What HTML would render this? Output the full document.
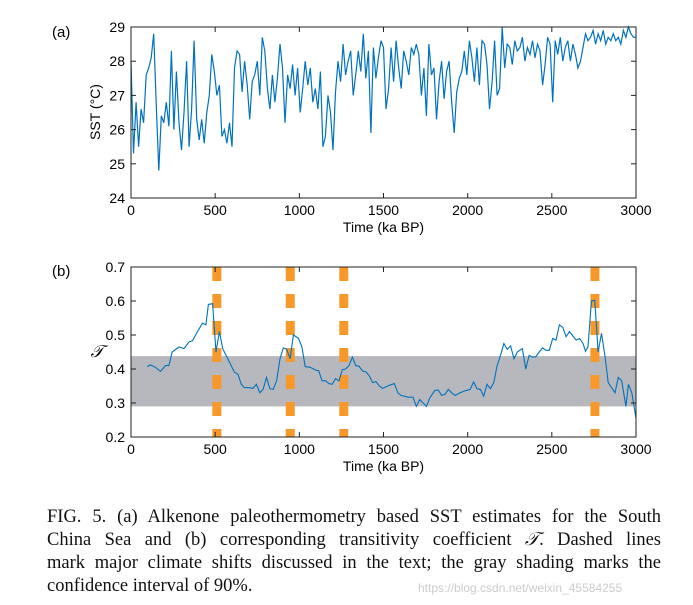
<!DOCTYPE html>
<html><head><meta charset="utf-8"><style>
body{margin:0;background:#fff;width:693px;height:605px;overflow:hidden}
svg{position:absolute;left:0;top:0}
.cap{position:absolute;left:47px;top:506px;width:614px;font-family:"Liberation Serif",serif;font-size:18.5px;line-height:23px;color:#111}
.cap div{white-space:nowrap;text-align:justify;text-align-last:justify}
.cap div.last{text-align-last:left}
.wm{position:absolute;left:418px;top:581px;font-family:"Liberation Sans",sans-serif;font-size:12px;color:#ccc}
</style></head><body>
<svg id="chart" width="693" height="500"></svg>
<div class="cap">
<div>FIG. 5. (a) Alkenone paleothermometry based SST estimates for the South</div>
<div>China Sea and (b) corresponding transitivity coefficient <i>𝒯</i>. Dashed lines</div>
<div>mark major climate shifts discussed in the text; the gray shading marks the</div>
<div class="last">confidence interval of 90%.</div>
</div>
<div class="wm">https://blog.csdn.net/weixin_45584255</div>
<script>
const sstValues=[28.0,25.3,26.8,25.5,26.6,26.2,27.6,27.8,28.1,28.8,26.7,24.8,26.4,26.2,26.8,26.1,28.3,26.0,27.7,26.2,25.4,26.5,28.0,25.5,26.6,28.6,26.3,25.7,26.3,25.6,26.5,27.0,28.2,27.7,27.0,27.3,25.8,26.0,25.6,26.2,25.5,27.8,28.3,28.2,27.1,28.0,27.3,26.3,27.4,27.6,28.0,27.0,28.7,28.3,27.2,26.6,27.6,26.8,27.5,28.5,27.8,26.2,27.6,27.2,27.9,27.0,27.8,26.5,27.2,28.0,27.3,27.8,26.8,27.2,26.6,27.7,25.5,25.8,27.0,26.5,25.4,27.1,28.0,27.4,28.5,27.6,28.0,28.3,27.0,27.6,28.3,27.7,28.8,27.5,28.3,25.9,28.4,27.5,28.1,28.6,28.4,26.6,27.2,28.4,27.4,28.6,27.8,27.2,28.3,28.0,27.6,28.4,28.2,28.5,28.2,27.0,27.8,26.4,28.5,27.6,27.8,26.3,27.4,28.0,26.9,27.7,28.0,26.8,25.9,27.1,27.5,27.7,28.3,27.6,28.6,28.1,27.4,28.4,27.3,28.6,28.5,27.9,26.6,27.4,28.6,27.0,27.2,29.0,27.8,28.5,28.4,27.9,28.6,28.3,28.4,28.7,28.0,28.4,28.2,28.6,28.1,28.5,28.3,27.3,27.9,28.7,28.5,26.8,28.6,28.2,28.7,28.0,28.4,28.6,28.0,28.5,28.2,27.8,28.0,28.4,28.8,28.6,28.7,28.9,28.5,28.8,28.6,28.9,28.5,28.7,28.6,28.8,28.6,28.7,28.5,28.9,28.7,29.0,28.8,28.7,28.7];
const tTimes=[96,115,145,175,205,225,245,285,315,345,365,395,425,445,460,485,505,525,545,585,615,635,655,675,705,725,745,765,785,805,825,845,865,885,905,925,945,965,995,1015,1035,1065,1095,1115,1135,1155,1175,1195,1215,1235,1255,1275,1295,1315,1335,1355,1375,1395,1415,1435,1455,1475,1495,1515,1535,1565,1585,1605,1625,1645,1675,1695,1715,1735,1755,1775,1805,1825,1845,1865,1885,1905,1925,1955,1985,2015,2035,2055,2075,2095,2115,2135,2155,2175,2195,2215,2235,2255,2275,2295,2325,2345,2365,2385,2405,2425,2445,2465,2485,2505,2525,2545,2565,2585,2605,2625,2645,2665,2685,2700,2715,2735,2755,2775,2795,2815,2835,2855,2875,2895,2915,2940,2955,2975,3000];
const tValues=[.407,.412,.405,.393,.41,.41,.45,.465,.46,.48,.483,.51,.535,.53,.59,.592,.45,.51,.46,.42,.39,.385,.355,.345,.345,.343,.355,.33,.34,.375,.342,.34,.365,.43,.462,.458,.43,.5,.49,.465,.407,.405,.397,.395,.365,.366,.357,.355,.372,.365,.398,.40,.41,.435,.41,.408,.394,.392,.38,.36,.363,.35,.343,.348,.352,.357,.33,.322,.32,.317,.317,.29,.31,.30,.29,.315,.337,.338,.323,.325,.34,.33,.322,.33,.336,.34,.362,.342,.34,.32,.355,.342,.36,.41,.44,.475,.458,.468,.43,.45,.46,.40,.44,.435,.436,.45,.462,.455,.455,.49,.485,.53,.522,.495,.51,.497,.485,.49,.475,.452,.465,.60,.602,.45,.505,.44,.36,.345,.33,.375,.365,.29,.355,.33,.255];
const shiftTimes=[510,946,1264,2756];
const ciBand=[0.29,0.438];
const xTicks=[0,500,1000,1500,2000,2500,3000];
const sstTicks=[24,25,26,27,28,29];
const tTicks=[0.2,0.3,0.4,0.5,0.6,0.7];

const svg=document.getElementById('chart');const NS='http://www.w3.org/2000/svg';
function mk(t,a,p){const e=document.createElementNS(NS,t);for(const k in a)e.setAttribute(k,a[k]);(p||svg).appendChild(e);return e;}
const L=131,R=636;
const xs=v=>L+v/3000*(R-L);
function frame(top,bot,ys,ticks,fmt,name){
  const g=mk('g',{});
  
  
  mk('rect',{x:L,y:top,width:R-L,height:bot-top,fill:'none',stroke:'#222','stroke-width':1},g);
  xTicks.forEach(v=>{const x=xs(v);
    mk('line',{x1:x,x2:x,y1:bot,y2:bot-5,stroke:'#222'},g);mk('line',{x1:x,x2:x,y1:top,y2:top+5,stroke:'#222'},g);
    const t=mk('text',{x:x,y:bot+17,'text-anchor':'middle','font-size':14,'font-family':'Liberation Sans,sans-serif'},g);t.textContent=v;
    
    });
  ticks.forEach(v=>{const y=ys(v);
    mk('line',{x1:L,x2:L+5,y1:y,y2:y,stroke:'#222'},g);mk('line',{x1:R,x2:R-5,y1:y,y2:y,stroke:'#222'},g);
    const t=mk('text',{x:L-6,y:y+5,'text-anchor':'end','font-size':14,'font-family':'Liberation Sans,sans-serif'},g);t.textContent=fmt(v);
    
    });
  const xl=mk('text',{x:(L+R)/2,y:bot+34,'text-anchor':'middle','font-size':14,'font-family':'Liberation Sans,sans-serif'},g);xl.textContent='Time (ka BP)';
  
  
}
// panel a
const aTop=27,aBot=198,ysA=v=>aBot-(v-24)/5*(aBot-aTop);
const la=mk('text',{x:52,y:37,'font-size':15,'font-family':'Liberation Sans,sans-serif'});la.textContent='(a)';


let d='';sstValues.forEach((v,i)=>{d+=(i?'L':'M')+xs(i*3000/(sstValues.length-1)).toFixed(1)+' '+ysA(v).toFixed(1);});
const pa=mk('path',{d:d,fill:'none',stroke:'#0072BD','stroke-width':1.2});


frame(aTop,aBot,ysA,sstTicks,v=>v,'sst');
const ya=mk('text',{transform:'translate(100,112) rotate(-90)','text-anchor':'middle','font-size':14,'font-family':'Liberation Sans,sans-serif'});ya.textContent='SST (°C)';


// panel b
const bTop=267,bBot=437,ysB=v=>bBot-(v-0.2)/0.5*(bBot-bTop);
const lb=mk('text',{x:52,y:276,'font-size':15,'font-family':'Liberation Sans,sans-serif'});lb.textContent='(b)';


const band=mk('rect',{x:L,y:ysB(ciBand[1]),width:R-L,height:ysB(ciBand[0])-ysB(ciBand[1]),fill:'#b7b8bd'});


shiftTimes.forEach(t=>{const l=mk('line',{x1:xs(t),x2:xs(t),y1:bTop,y2:bBot,stroke:'#f7982a','stroke-width':9,'stroke-dasharray':'14 13'});
  
  });
d='';tValues.forEach((v,i)=>{d+=(i?'L':'M')+xs(tTimes[i]).toFixed(1)+' '+ysB(v).toFixed(1);});
const pb=mk('path',{d:d,fill:'none',stroke:'#0072BD','stroke-width':1.1});


frame(bTop,bBot,ysB,tTicks,v=>v.toFixed(1),'transitivity');
const yb=mk('text',{x:97,y:357,'text-anchor':'middle','font-size':17,'font-style':'italic','font-family':'Liberation Serif,serif'});yb.textContent='𝒯';


</script>
</body></html>
